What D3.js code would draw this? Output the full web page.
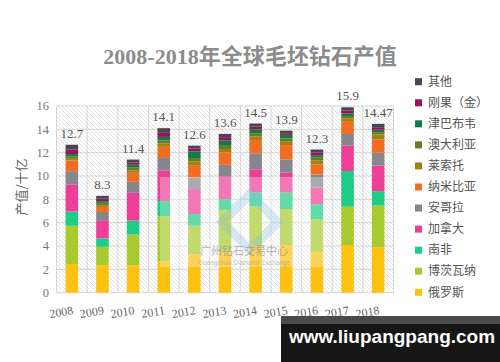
<!DOCTYPE html>
<html><head><meta charset="utf-8">
<script src="https://cdn.jsdelivr.net/npm/d3@7/dist/d3.min.js"></script>
<style>body{margin:0;background:#fff;}svg{display:block;}</style>
</head><body>
<svg id="c" width="500" height="362"></svg>
<script>
const years = ["2008","2009","2010","2011","2012","2013","2014","2015","2016","2017","2018"];
const totalLabels = ["12.7","8.3","11.4","14.1","12.6","13.6","14.5","13.9","12.3","15.9","14.47"];
const yTicks = [0,2,4,6,8,10,12,14,16];
// stack order bottom -> top
const russia     = [2.46,2.35,2.35,2.70,3.30,3.50,4.10,4.09,3.50,4.09,3.90];
const botswana   = [3.28,1.58,2.63,3.85,2.44,3.60,3.28,3.08,2.80,3.28,3.57];
const southAfrica= [1.22,0.72,1.20,1.30,1.00,0.92,1.20,1.40,1.29,3.06,1.23];
const canada     = [2.29,1.50,2.38,2.60,2.14,1.94,2.00,1.71,1.43,2.17,2.20];
const angola     = [1.17,0.77,0.94,1.10,1.00,1.00,1.37,1.14,1.10,1.00,1.09];
const namibia    = [0.91,0.43,0.77,0.95,1.00,1.06,1.14,1.23,0.86,1.11,1.14];
const lesotho    = [0.15,0.15,0.20,0.30,0.37,0.29,0.29,0.29,0.37,0.23,0.43];
const australia  = [0.20,0.20,0.25,0.25,0.29,0.28,0.29,0.29,0.23,0.20,0.20];
const zimbabwe   = [0.20,0.15,0.25,0.30,0.57,0.45,0.34,0.29,0.20,0.23,0.20];
const drc        = [0.40,0.20,0.20,0.35,0.26,0.29,0.23,0.15,0.23,0.23,0.17];
const others     = [0.40,0.25,0.24,0.40,0.23,0.28,0.26,0.22,0.26,0.29,0.34];

const seriesNames = ["俄罗斯","博茨瓦纳","南非","加拿大","安哥拉","纳米比亚","莱索托","澳大利亚","津巴布韦","刚果（金）","其他"];
const seriesData = [russia,botswana,southAfrica,canada,angola,namibia,lesotho,australia,zimbabwe,drc,others];
const colors = ["#fdc10f","#a8ca2e","#1dcc85","#ee3e97","#87868c","#f26d21","#a5800f","#6a7b22","#107a48","#9e1158","#4b4452"];

(function(){
const svg = d3.select("#c");
const pL = 56.5, pR = 393.5, pT = 106, pB = 292.7;

const x = d3.scaleBand().domain(years).range([pL, pR]).paddingInner(0.59).paddingOuter(0.295);
const y = d3.scaleLinear().domain([0,16]).range([pB, pT]);

// hatch pattern
const defs = svg.append("defs");
const pat = defs.append("pattern").attr("id","hatch").attr("patternUnits","userSpaceOnUse")
  .attr("width",4).attr("height",4);
pat.append("rect").attr("width",4).attr("height",4).attr("fill","#fff");
pat.append("path").attr("d","M-1,-1 L5,5 M-1,3 L1,5 M3,-1 L5,1").attr("stroke","#dedede").attr("stroke-width",0.8);

svg.append("rect").attr("x",pL).attr("y",pT).attr("width",pR-pL).attr("height",pB-pT).attr("fill","url(#hatch)");

// gridlines
svg.append("g").selectAll("line").data(yTicks).join("line")
  .attr("x1",pL).attr("x2",pR).attr("y1",d=>y(d)).attr("y2",d=>y(d))
  .attr("stroke","#d6d6d6").attr("stroke-width",1);
const step = x.step();
svg.append("g").selectAll("line").data(d3.range(years.length+1)).join("line")
  .attr("x1",i=>pL+i*step).attr("x2",i=>pL+i*step).attr("y1",pT).attr("y2",pB)
  .attr("stroke","#d6d6d6").attr("stroke-width",1);

// stacked bars
const table = years.map((yr,i)=>{const o={year:yr}; seriesNames.forEach((n,k)=>o[n]=seriesData[k][i]); return o;});
const stack = d3.stack().keys(seriesNames)(table);
svg.append("g").selectAll("g").data(stack).join("g").attr("fill",(d,i)=>colors[i])
  .selectAll("rect").data(d=>d).join("rect")
  .attr("x",d=>x(d.data.year)).attr("width",x.bandwidth())
  .attr("y",d=>y(d[1])).attr("height",d=>y(d[0])-y(d[1]));

// total labels
const tops = stack[stack.length-1];
svg.append("g").selectAll("text").data(years).join("text")
  .attr("x",d=>x(d)+x.bandwidth()/2).attr("y",(d,i)=>y(tops[i][1])-7)
  .attr("text-anchor","middle").attr("font-family","Liberation Serif, serif").attr("font-size",13)
  .attr("fill","#555").text((d,i)=>totalLabels[i]);

// watermark
svg.append("rect").attr("x",160).attr("y",177).attr("width",164).attr("height",90).attr("fill","#fff").attr("opacity",0.3);
svg.append("path").attr("d","M222,222 L250,194 L278,222 L250,250 Z").attr("fill","none")
  .attr("stroke","#86bde0").attr("stroke-width",9).attr("opacity",0.3);
svg.append("text").attr("x",244).attr("y",255).attr("text-anchor","middle").attr("font-family","Noto Sans CJK SC").attr("font-size",11)
  .attr("fill","#8a8a8a").attr("opacity",0.6).text("广州钻石交易中心");
svg.append("text").attr("x",244).attr("y",265).attr("text-anchor","middle").attr("font-family","Liberation Sans").attr("font-size",6.5)
  .attr("fill","#9a9a9a").attr("opacity",0.6).text("Guangzhou Diamond Exchange");

// y axis labels
svg.append("g").selectAll("text").data(yTicks).join("text")
  .attr("x",49).attr("y",d=>y(d)).attr("dy","0.35em").attr("text-anchor","end")
  .attr("font-family","Liberation Serif, serif").attr("font-size",12.5).attr("fill","#777").text(d=>d);
svg.append("text").attr("transform","translate(26,187) rotate(-90)").attr("text-anchor","middle")
  .attr("font-family","Noto Sans CJK SC").attr("font-size",13).attr("fill","#666").text("产值/十亿");

// x axis labels
svg.append("g").selectAll("text").data(years).join("text")
  .attr("transform",d=>`translate(${x(d)+x.bandwidth()/2-10},316) rotate(-9)`)
  .attr("text-anchor","middle").attr("font-family","Liberation Serif, serif").attr("font-size",12)
  .attr("fill","#666").text(d=>d);

// title
svg.append("text").attr("x",250).attr("y",64).attr("text-anchor","middle")
  .attr("font-family","Liberation Serif, Noto Sans CJK SC").attr("font-weight","bold").attr("font-size",22)
  .attr("fill","#8c8c8c").text("2008-2018年全球毛坯钻石产值");

// legend (top item = last series)
const legendOrder = d3.range(seriesNames.length).reverse();
const lg = svg.append("g").selectAll("g").data(legendOrder).join("g")
  .attr("transform",(d,i)=>`translate(415,${81.7+i*21.06})`);
lg.append("rect").attr("x",0).attr("y",-3.5).attr("width",7).attr("height",7).attr("fill",d=>colors[d]);
lg.append("text").attr("x",13).attr("y",0).attr("dy","0.35em").attr("font-family","Noto Sans CJK SC")
  .attr("font-size",12).attr("fill","#555").text(d=>seriesNames[d]);

// bottom banner
svg.append("rect").attr("x",281).attr("y",316).attr("width",219).attr("height",46).attr("fill","#161616");
svg.append("rect").attr("x",281).attr("y",316).attr("width",219).attr("height",8).attr("fill","#4a4a4a");
svg.append("text").attr("x",392).attr("y",343).attr("text-anchor","middle").attr("font-family","Liberation Sans")
  .attr("font-weight","bold").attr("font-size",19).attr("fill","#fff").text("www.liupangpang.com");
})();
</script>
</body></html>
